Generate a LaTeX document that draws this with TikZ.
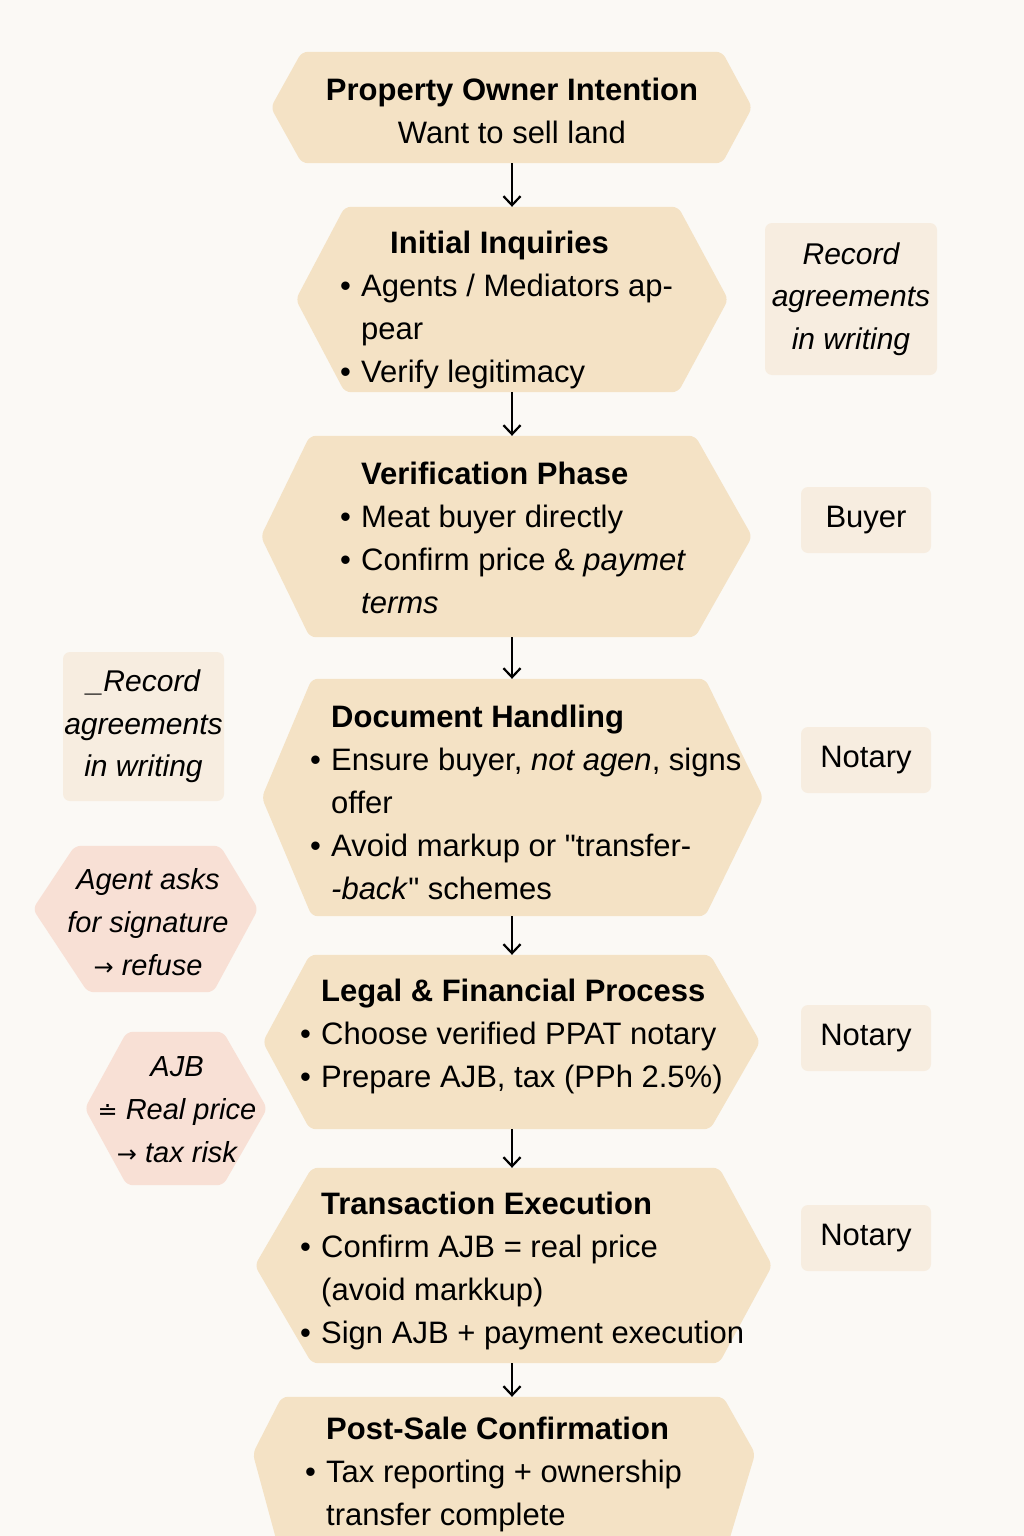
\documentclass[tikz,border=0pt]{standalone}
\usepackage{fontspec}
\setmainfont{Liberation Sans}
\newfontfamily\symfont{DejaVu Sans}
\usetikzlibrary{arrows.meta}
\definecolor{paper}{HTML}{FBF9F5}
\definecolor{stagefill}{HTML}{F4E2C5}
\definecolor{notefill}{HTML}{F7EDE0}
\definecolor{warnfill}{HTML}{F8E0D5}
\newcommand{\bul}{\makebox[21pt][l]{\textbullet}}
\newcommand{\cont}{\hspace*{21pt}}
\newcommand{\sarr}{{\symfont\fontsize{24}{24}\selectfont →}}
\newcommand{\sneq}{{\symfont\fontsize{24}{24}\selectfont ≐}}
\tikzset{
  hexbody/.style={inner sep=0pt},
  hexfill/.style={fill=stagefill, rounded corners=6pt},
  warnhex/.style={fill=warnfill, rounded corners=6pt},
  stagetext/.style={inner sep=0pt, align=left, font=\fontsize{31}{43}\selectfont},
  warntext/.style={inner sep=0pt, align=center, font=\fontsize{29}{43}\selectfont\itshape},
  notebox/.style={fill=notefill, rounded corners=7pt, inner sep=0pt, align=center, font=\fontsize{30}{42.5}\selectfont\itshape},
  rolebox/.style={fill=notefill, rounded corners=7pt, inner sep=0pt, minimum width=130pt, minimum height=66pt, font=\fontsize{31}{40}\selectfont},
  flow/.style={-{Straight Barb[length=9pt,width=17pt]}, line width=2.2pt},
}
\begin{document}
\begin{tikzpicture}[x=1pt,y=-1pt]
\useasboundingbox (0,0) rectangle (1024,1536);
\clip (0,0) rectangle (1024,1536);
\fill[paper] (0,0) rectangle (1024,1536);
\coordinate (spine) at (512,0);

\node[hexbody, minimum width=420pt, minimum height=111pt] (owner) at (512,107.5) {};
\node[hexbody, minimum width=333pt, minimum height=185pt] (inquiry) at (511.5,299.5) {};
\node[hexbody, minimum width=385pt, minimum height=201pt] (verify) at (502.5,536.5) {};
\node[hexbody, minimum width=393pt, minimum height=237pt] (docs) at (508.5,797.5) {};
\node[hexbody, minimum width=400pt, minimum height=174pt] (legal) at (510,1042) {};
\node[hexbody, minimum width=407pt, minimum height=195pt] (execute) at (515.5,1265.5) {};
\node[hexbody, minimum width=441pt, minimum height=163pt] (post) at (502.5,1478.5) {};
\node[hexbody, minimum width=145pt, minimum height=146pt] (warnsign) at (147.5,919) {};
\node[hexbody, minimum width=96pt, minimum height=153pt] (warnajb) at (175,1108.5) {};

\fill[hexfill] (owner.north west) -- (owner.north east) -- ([xshift=30pt]owner.east) -- (owner.south east) -- (owner.south west) -- ([xshift=-31pt]owner.west) -- cycle;
\fill[hexfill] (inquiry.north west) -- (inquiry.north east) -- ([xshift=50pt]inquiry.east) -- (inquiry.south east) -- (inquiry.south west) -- ([xshift=-49pt]inquiry.west) -- cycle;
\fill[hexfill] (verify.north west) -- (verify.north east) -- ([xshift=57pt]verify.east) -- (verify.south east) -- (verify.south west) -- ([xshift=-49pt]verify.west) -- cycle;
\fill[hexfill] (docs.north west) -- (docs.north east) -- ([xshift=58pt]docs.east) -- (docs.south east) -- (docs.south west) -- ([xshift=-50pt]docs.west) -- cycle;
\fill[hexfill] (legal.north west) -- (legal.north east) -- ([xshift=50pt]legal.east) -- (legal.south east) -- (legal.south west) -- ([xshift=-47pt]legal.west) -- cycle;
\fill[hexfill] (execute.north west) -- (execute.north east) -- ([xshift=53pt]execute.east) -- (execute.south east) -- (execute.south west) -- ([xshift=-57pt]execute.west) -- cycle;
\fill[hexfill] (post.north west) -- (post.north east) -- ([xshift=32pt,yshift=25pt]post.east) -- (post.south east) -- (post.south west) -- ([xshift=-29pt,yshift=25pt]post.west) -- cycle;
\fill[warnhex] (warnsign.north west) -- (warnsign.north east) -- ([xshift=38pt,yshift=10pt]warnsign.east) -- ([xshift=-7pt]warnsign.south east) -- ([xshift=13pt]warnsign.south west) -- ([xshift=-42pt,yshift=10pt]warnsign.west) -- cycle;
\fill[warnhex] (warnajb.north west) -- (warnajb.north east) -- ([xshift=44pt]warnajb.east) -- (warnajb.south east) -- (warnajb.south west) -- ([xshift=-42pt]warnajb.west) -- cycle;

\node[stagetext, align=center] (ownertext) at (512,111) {\textbf{Property Owner Intention}\\Want to sell land};
\node[stagetext, anchor=west] (inquirytext) at (340,310) {\cont\hspace*{29pt}\textbf{Initial Inquiries}\\\bul Agents / Mediators ap-\\\cont pear\\\bul Verify legitimacy};
\node[stagetext, anchor=west] (verifytext) at (340,538) {\cont\textbf{Verification Phase}\\\bul Meat buyer directly\\\bul Confirm price \& \textit{paymet}\\\cont\textit{terms}};
\node[stagetext, anchor=west] (docstext) at (310,802) {\cont\textbf{Document Handling}\\\bul Ensure buyer, \textit{not agen}, signs\\\cont offer\\\bul Avoid markup or \textquotedbl transfer-\\\cont\textit{-back}\textquotedbl{} schemes};
\node[stagetext, anchor=west] (legaltext) at (300,1036) {\cont\textbf{Legal \& Financial Process}\\\bul Choose verified PPAT notary\\\bul Prepare AJB, tax (PPh 2.5\%)};
\node[stagetext, anchor=west] (executetext) at (300,1271) {\cont\textbf{Transaction Execution}\\\bul Confirm AJB = real price\\\cont(avoid markkup)\\\bul Sign AJB + payment execution};
\node[stagetext, anchor=west] (posttext) at (305,1474) {\cont\textbf{Post-Sale Confirmation}\\\bul Tax reporting + ownership\\\cont transfer complete};
\node[warntext] (warnsigntext) at (148,922) {Agent asks\\for signature\\\sarr{} refuse};
\node[warntext] (warnajbtext) at (177,1110) {AJB\\\sneq{} Real price\\\sarr{} tax risk};

\node[notebox, minimum width=172pt, minimum height=152pt] (recordright) at (851,299) {Record\\agreements\\in writing};
\node[notebox, minimum width=161pt, minimum height=149pt] (recordleft) at (143.5,726.5) {\_Record\\agreements\\in writing};
\node[rolebox] (buyer) at (866,520) {Buyer};
\node[rolebox] (notaryone) at (866,760) {Notary};
\node[rolebox] (notarytwo) at (866,1038) {Notary};
\node[rolebox] (notarythree) at (866,1238) {Notary};

\draw[flow] (owner.south -| spine) -- (inquiry.north -| spine);
\draw[flow] (inquiry.south -| spine) -- (verify.north -| spine);
\draw[flow] (verify.south -| spine) -- (docs.north -| spine);
\draw[flow] (docs.south -| spine) -- (legal.north -| spine);
\draw[flow] (legal.south -| spine) -- (execute.north -| spine);
\draw[flow] (execute.south -| spine) -- (post.north -| spine);
\end{tikzpicture}
\end{document}
